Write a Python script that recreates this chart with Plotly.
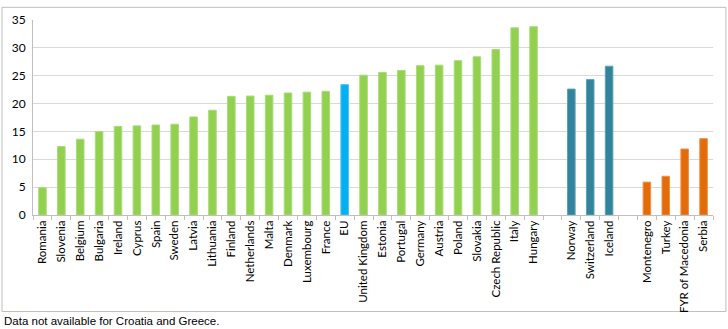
import plotly.graph_objects as go

eu_countries = ["Romania", "Slovenia", "Belgium", "Bulgaria", "Ireland", "Cyprus", "Spain",
                "Sweden", "Latvia", "Lithuania", "Finland", "Netherlands", "Malta", "Denmark",
                "Luxembourg", "France", "EU", "United Kingdom", "Estonia", "Portugal", "Germany",
                "Austria", "Poland", "Slovakia", "Czech Republic", "Italy", "Hungary"]
eu_values = [4.9, 12.3, 13.6, 15.0, 15.9, 16.0, 16.15, 16.3, 17.6, 18.8, 21.3, 21.35, 21.5, 21.9,
             22.05, 22.2, 23.4, 25.1, 25.6, 25.95, 26.8, 26.9, 27.7, 28.4, 29.7, 33.6, 33.8]
efta_countries = ["Norway", "Switzerland", "Iceland"]
efta_values = [22.6, 24.3, 26.7]
cand_countries = ["Montenegro", "Turkey", "FYR of Macedonia", "Serbia"]
cand_values = [5.9, 6.95, 11.85, 13.7]
gap1, gap2 = " ", "  "

category_order = eu_countries + [gap1] + efta_countries + [gap2] + cand_countries

GREEN, BLUE, TEAL, ORANGE = "#92D050", "#00B0F0", "#31849B", "#E36C09"
eu_colors = [BLUE if c == "EU" else GREEN for c in eu_countries]
eu_lines = ["#4FC3F7" if c == "EU" else "#A9DC78" for c in eu_countries]

fig = go.Figure()
fig.add_bar(x=eu_countries, y=eu_values, marker=dict(color=eu_colors, line=dict(color=eu_lines, width=1)))
fig.add_bar(x=efta_countries, y=efta_values, marker=dict(color=TEAL, line=dict(color="#5AA3B6", width=1)))
fig.add_bar(x=cand_countries, y=cand_values, marker=dict(color=ORANGE, line=dict(color="#F0904A", width=1)))

fig.update_layout(
    width=728, height=329,
    margin=dict(l=33, r=15, t=15, b=114),
    paper_bgcolor="white", plot_bgcolor="white",
    showlegend=False, barmode="overlay", bargap=0.6,
    font=dict(family="Lato, Carlito, sans-serif", size=11, color="#000000"),
)
fig.update_xaxes(
    type="category", categoryorder="array", categoryarray=category_order,
    tickangle=-90, ticks="outside", tickson="boundaries", ticklen=4, tickcolor="#BFBFBF",
    showline=True, linecolor="#BFBFBF", linewidth=1, showgrid=False,
    tickfont=dict(size=11.5, family="Lato, sans-serif"),
)
fig.update_yaxes(
    range=[0, 35], dtick=5, showgrid=True, gridcolor="#D9D9D9", gridwidth=1,
    showline=True, linecolor="#BFBFBF", linewidth=1, ticks="", zeroline=False,
    ticklabelstandoff=4,
    tickfont=dict(size=12, family="Lato, sans-serif"),
)
fig.add_shape(type="rect", xref="paper", yref="paper",
              x0=-0.0456, x1=1.019, y0=-0.495, y1=1.065,
              line=dict(color="#BFBFBF", width=1), fillcolor="rgba(0,0,0,0)", layer="below")
fig.add_annotation(text="Data not available for Croatia and Greece.", xref="paper", yref="paper",
                   x=-0.0456, y=-0.545, xanchor="left", yanchor="middle", showarrow=False,
                   font=dict(family="Liberation Sans, Arial, sans-serif", size=11.5, color="#000000"))

fig.write_html("out.html")
